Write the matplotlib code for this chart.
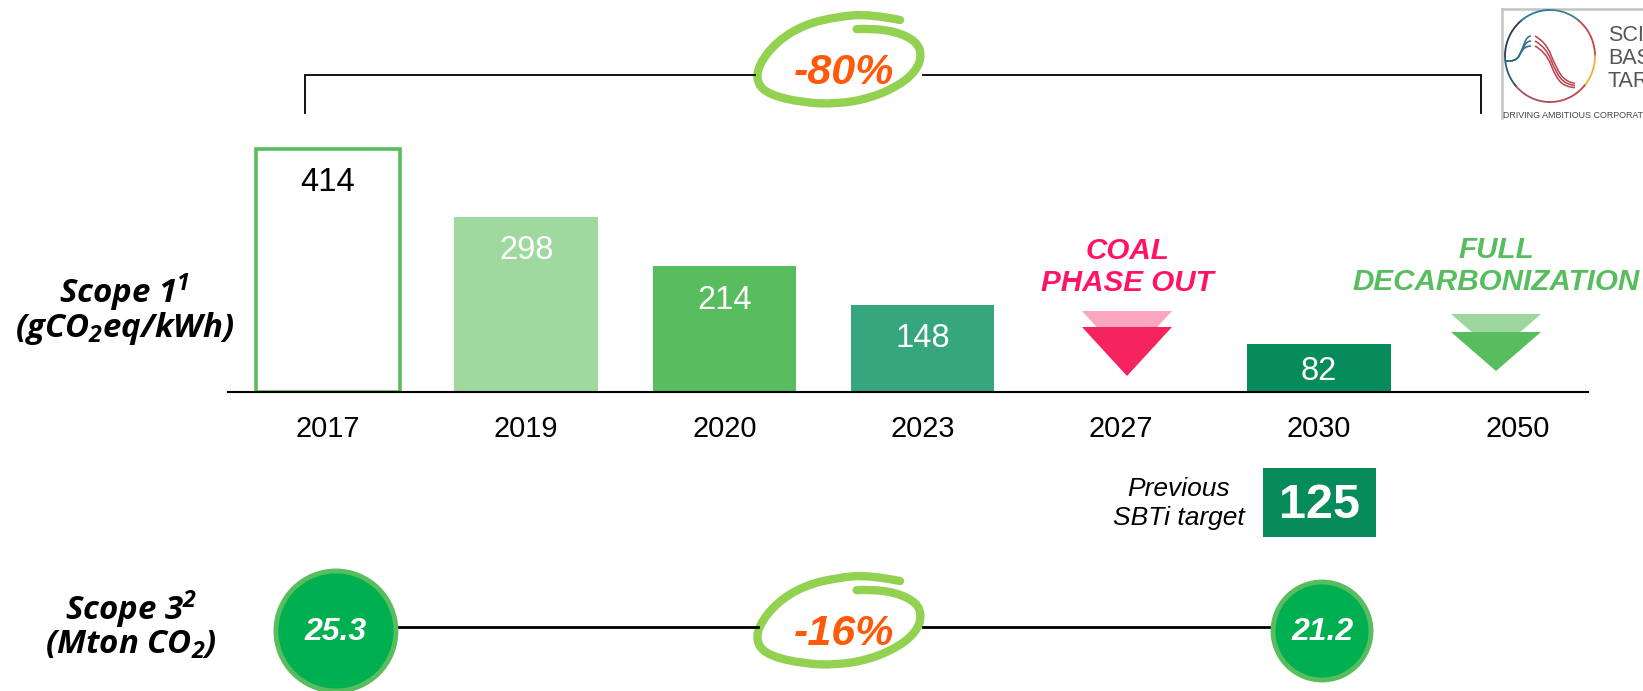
import numpy as np
import matplotlib
matplotlib.use("Agg")
import matplotlib.pyplot as plt
from matplotlib.path import Path
from matplotlib.patches import PathPatch, Circle, Polygon, Rectangle

plt.rcParams['font.family'] = ['Liberation Sans', 'DejaVu Sans']
plt.rcParams['mathtext.default'] = 'regular'

years = ["2017", "2019", "2020", "2023", "2027", "2030", "2050"]
bar_idx = [0, 1, 2, 3, 5]
bar_vals = [414, 298, 214, 148, 82]
bar_cols = ["white", "#9FD9A0", "#57BD5E", "#36A67C", "#068C5A"]
bar_txt = ["black", "white", "white", "white", "white"]
scope3_idx = [0.04, 5.0]
scope3_vals = ["25.3", "21.2"]
prev_target = "125"

W, H = 1643, 691
GREEN = "#57BD5E"
PINK = "#F5245F"
ORANGE = "#FF5A0A"
ELL = "#92D250"

fig = plt.figure(figsize=(W / 100, H / 100), dpi=100, facecolor="white")

# overlay in pixels for all the slide decoration
ov = fig.add_axes([0, 0, 1, 1])
ov.set_xlim(0, W)
ov.set_ylim(H, 0)
ov.axis("off")

# bar axes, baseline at y=392px, 0.5866 px per unit
base = 392
ax = fig.add_axes([228 / W, 1 - base / H, (1588 - 228) / W, base / H])
ax.patch.set_alpha(0)
ax.set_xlim(-0.504, 6.356)
ax.set_ylim(0, base / 0.5866)
for s in ["top", "left", "right"]:
    ax.spines[s].set_visible(False)
ax.spines["bottom"].set_linewidth(1.5)
ax.set_yticks([])
ax.set_xticks(range(len(years)))
ax.set_xticklabels(years, fontsize=20.8)
ax.tick_params(axis="x", length=0, pad=16.5)

bars = ax.bar(bar_idx, bar_vals, width=0.724, color=bar_cols, zorder=2)
bars[0].set_edgecolor(GREEN)
bars[0].set_linewidth(2.6)
for i, v, c in zip(bar_idx, bar_vals, bar_txt):
    # the small 2030 bar has its label closer to the top
    off = -9 if v < 100 else -13
    ax.annotate(str(v), (i, v), xytext=(0, off), textcoords="offset points",
                ha="center", va="top", fontsize=23.5, color=c)


def xpx(i):
    return 328 + i * 198.4


def smooth(pts):
    pts = np.array(pts, float)
    verts = [pts[0]]
    codes = [Path.MOVETO]
    for a, b in zip(pts[1:-1], pts[2:]):
        verts += [a, (a + b) / 2]
        codes += [Path.CURVE3, Path.CURVE3]
    return Path(verts, codes)


def hand_ellipse(dy):
    pts = np.array([(540, 60), (450, 42), (350, 50), (250, 75), (170, 125), (115, 195),
                    (110, 250), (150, 285), (250, 308), (350, 312), (450, 295), (540, 255),
                    (590, 210), (605, 165), (590, 125), (530, 95), (450, 85), (370, 90)], float)
    pts = pts / 3 + [720, dy]
    ov.add_patch(PathPatch(smooth(pts), fill=False, ec=ELL, lw=6, capstyle="round"))


# bracket
ov.plot([305, 305, 755], [113, 75, 75], color="black", lw=1.3, solid_joinstyle="miter")
ov.plot([923, 1481, 1481], [75, 75, 113], color="black", lw=1.3, solid_joinstyle="miter")
hand_ellipse(0)
ov.text(844, 73, "-80%", ha="center", va="center", fontsize=31, color=ORANGE,
        fontweight="bold", style="italic")

# scope labels
lab = dict(ha="center", va="center", fontsize=23.8, fontweight="bold", style="italic",
           family=["Open Sans", "DejaVu Sans"])
ov.text(125, 293, "Scope 1$^{1}$", **lab)
ov.text(125, 328, "(gCO$_{2}$eq/kWh)", **lab)
ov.text(131, 610, "Scope 3$^{2}$", **lab)
ov.text(131, 645, "(Mton CO$_{2}$)", **lab)

# milestones
tri = [(1082, 327), (1172, 327), (1127, 376)]
ov.add_patch(Polygon(np.array(tri) - [0, 16], color="#F9A6BE", lw=0))
ov.add_patch(Polygon(tri, color=PINK, lw=0))
tri = [(1451, 332), (1541, 332), (1496, 371)]
ov.add_patch(Polygon(np.array(tri) - [0, 18], color="#9DD69F", lw=0))
ov.add_patch(Polygon(tri, color=GREEN, lw=0))
ms = dict(ha="center", va="center", fontsize=21.3, fontweight="bold", style="italic")
ov.text(1127, 251, "COAL", color="#FF1464", **ms)
ov.text(1127, 283, "PHASE OUT", color="#FF1464", **ms)
ov.text(1496, 250, "FULL", color=GREEN, **ms)
ov.text(1496, 282, "DECARBONIZATION", color=GREEN, **ms)

# previous target
ov.add_patch(Rectangle((1263, 468), 113, 69, color="#068C5A", lw=0))
ov.text(1319, 505, prev_target, ha="center", va="center", fontsize=35, color="white",
        fontweight="bold")
ov.text(1179, 489, "Previous", ha="center", va="center", fontsize=19, style="italic")
ov.text(1179, 518, "SBTi target", ha="center", va="center", fontsize=19, style="italic")

# scope 3 row
ov.plot([396, 758], [627, 627], color="black", lw=2)
ov.plot([923, 1275], [627, 627], color="black", lw=2)
hand_ellipse(561)
ov.text(844, 634, "-16%", ha="center", va="center", fontsize=31, color=ORANGE,
        fontweight="bold", style="italic")
for i, v, r in zip(scope3_idx, scope3_vals, [60, 49]):
    c = Circle((xpx(i) + (2 if i > 1 else 0), 631), r, fc="#00AF50", ec=GREEN, lw=3.5, zorder=3)
    ov.add_patch(c)
    ov.text(xpx(i) + (3 if i > 1 else 0), 632, v, ha="center", va="center", fontsize=23,
            color="white", fontweight="bold", style="italic", zorder=4)

# logo
ov.plot([1502, 1502], [118, 9], color="#C4C4C4", lw=1.8)
ov.plot([1502, W], [9, 9], color="#C4C4C4", lw=1.8)
stops = [(180, "#2B3A4A"), (130, "#1F7F97"), (90, "#3F7F90"), (50, "#C0474F"),
         (0, "#EEB13C"), (-40, "#C0474F"), (-90, "#A5505A"), (-140, "#2B5A6E"), (-180, "#2B3A4A")]
for (a0, c0), (a1, c1) in zip(stops[:-1], stops[1:]):
    t = np.radians(np.linspace(a0, a1, 30))
    ov.plot(1550 + 45 * np.cos(t), 56 - 46 * np.sin(t), color=c0, lw=1.3)
for d in [0, 5, 10]:
    ov.add_patch(PathPatch(smooth([(1505, 61), (1516, 62), (1522, 50), (1527, 36 + d), (1535, 36 + d)]),
                           fill=False, ec="#2A6F85", lw=1.1))
    ov.add_patch(PathPatch(smooth([(1535, 36 + d), (1546, 42 + d), (1556, 68 + d), (1566, 82 + d / 2),
                                   (1584, 85 + d / 3)]),
                           fill=False, ec="#B8434C", lw=1.1))
for y, s in [(35, "SCIENCE"), (58, "BASED"), (81, "TARGETS")]:
    ov.text(1608, y, s, ha="left", va="center", fontsize=15.5, color="#555555")
ov.text(1503, 115, "DRIVING AMBITIOUS CORPORATE CLIMATE ACTION", ha="left", va="center",
        fontsize=6.4, color="#444444")

fig.savefig("out.png", dpi=100, facecolor="white")
